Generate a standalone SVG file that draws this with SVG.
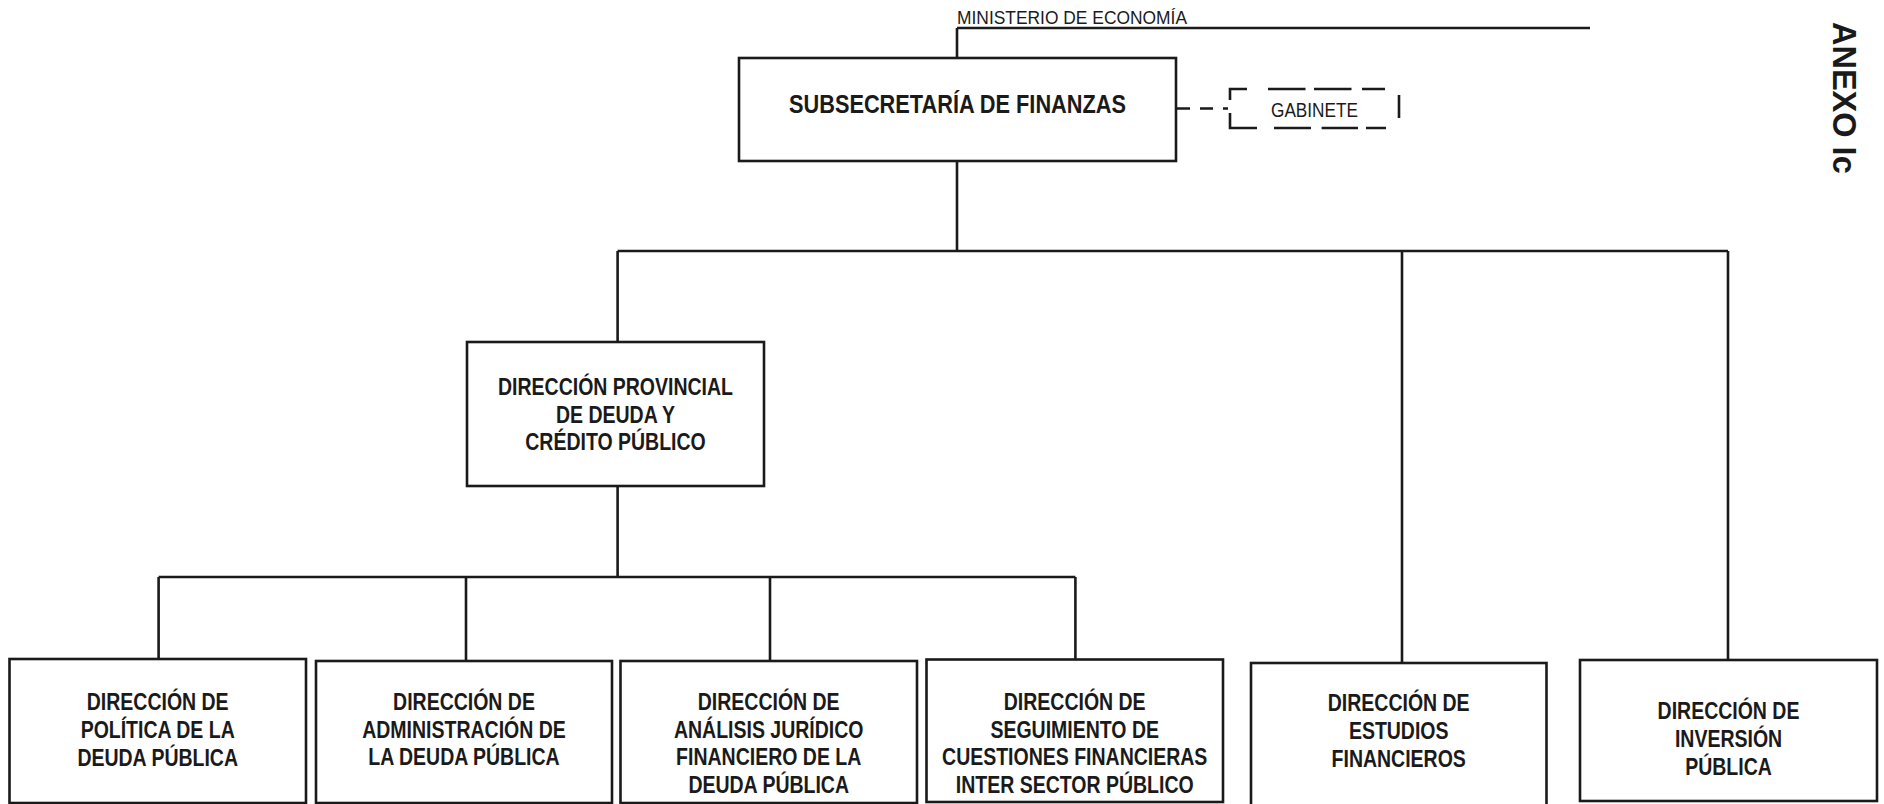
<svg xmlns="http://www.w3.org/2000/svg" width="1884" height="804" viewBox="0 0 1884 804">
<style>
.box{fill:#fff;stroke:#1a1a1a;stroke-width:2.6}
.ln{fill:none;stroke:#1a1a1a;stroke-width:2.6}
.dl{fill:none;stroke:#1a1a1a;stroke-width:2.6}
.lbl{font-family:"Liberation Sans",Arial,sans-serif;font-weight:bold;font-size:23.5px;text-anchor:middle;fill:#1a1a1a}
.reg{font-family:"Liberation Sans",Arial,sans-serif;fill:#1a1a1a}
</style>
<rect width="1884" height="804" fill="#fff"/>
<g id="connectors">
<path class="ln" d="M957 28 H1590 M957 28 V58"/>
<path class="ln" d="M957 161 V251 M617.6 251 H1728 M617.6 251 V342 M1402 251 V663 M1728 251 V660"/>
<path class="ln" d="M617.6 486 V577 M158.6 577 H1075.4 M158.6 577 V659 M466 577 V661 M770 577 V661 M1075.4 577 V659.5"/>
<path class="dl" d="M1177 108.5 H1228" stroke-dasharray="13 10"/>
</g>
<g id="ministerio">
<text class="reg" x="957" y="24" font-size="19" textLength="230" lengthAdjust="spacingAndGlyphs">MINISTERIO DE ECONOMÍA</text>
</g>
<g id="subsecretaria">
<rect class="box" x="739" y="58" width="437" height="103"/>
<text class="reg" x="957.5" y="113" font-size="25.5" font-weight="bold" text-anchor="middle" textLength="337" lengthAdjust="spacingAndGlyphs">SUBSECRETARÍA DE FINANZAS</text>
</g>
<g id="gabinete">
<path class="ln" d="M1230 100 V89 H1247 M1268 89 H1305.5 M1314 89 H1351.5 M1362 89 H1385 M1230 113 V128 H1257 M1274 128 H1311 M1321.6 128 H1358 M1366 128 H1386 M1399 95 V118"/>
<text class="reg" x="1314.5" y="116.5" font-size="20" text-anchor="middle" textLength="87" lengthAdjust="spacingAndGlyphs">GABINETE</text>
</g>
<g id="anexo">
<text class="reg" transform="translate(1833,22) rotate(90)" font-size="32.5" font-weight="bold">ANEXO Ic</text>
</g>
<g id="dir-provincial">
<rect class="box" x="467" y="342" width="297" height="144"/>
<text class="lbl" transform="translate(615.5,0) scale(0.83,1)"><tspan x="0" y="395">DIRECCIÓN PROVINCIAL</tspan><tspan x="0" y="422.6">DE DEUDA Y</tspan><tspan x="0" y="450.2">CRÉDITO PÚBLICO</tspan></text>
</g>
<g id="dir-politica">
<rect class="box" x="9.5" y="659" width="296.5" height="144"/>
<text class="lbl" transform="translate(157.7,0) scale(0.83,1)"><tspan x="0" y="710.5">DIRECCIÓN DE</tspan><tspan x="0" y="738">POLÍTICA DE LA</tspan><tspan x="0" y="765.6">DEUDA PÚBLICA</tspan></text>
</g>
<g id="dir-administracion">
<rect class="box" x="316" y="661" width="296" height="142"/>
<text class="lbl" transform="translate(464,0) scale(0.83,1)"><tspan x="0" y="710">DIRECCIÓN DE</tspan><tspan x="0" y="737.6">ADMINISTRACIÓN DE</tspan><tspan x="0" y="765.2">LA DEUDA PÚBLICA</tspan></text>
</g>
<g id="dir-analisis">
<rect class="box" x="620.5" y="661" width="296.5" height="142"/>
<text class="lbl" transform="translate(768.7,0) scale(0.83,1)"><tspan x="0" y="710">DIRECCIÓN DE</tspan><tspan x="0" y="737.6">ANÁLISIS JURÍDICO</tspan><tspan x="0" y="765.2">FINANCIERO DE LA</tspan><tspan x="0" y="792.8">DEUDA PÚBLICA</tspan></text>
</g>
<g id="dir-seguimiento">
<rect class="box" x="926.5" y="659.5" width="296.5" height="142.5"/>
<text class="lbl" transform="translate(1074.7,0) scale(0.83,1)"><tspan x="0" y="710">DIRECCIÓN DE</tspan><tspan x="0" y="737.6">SEGUIMIENTO DE</tspan><tspan x="0" y="765.2">CUESTIONES FINANCIERAS</tspan><tspan x="0" y="792.8">INTER SECTOR PÚBLICO</tspan></text>
</g>
<g id="dir-estudios">
<rect class="box" x="1251" y="663" width="295.5" height="145"/>
<text class="lbl" transform="translate(1398.7,0) scale(0.83,1)"><tspan x="0" y="711.5">DIRECCIÓN DE</tspan><tspan x="0" y="739">ESTUDIOS</tspan><tspan x="0" y="766.6">FINANCIEROS</tspan></text>
</g>
<g id="dir-inversion">
<rect class="box" x="1580" y="660" width="297" height="141"/>
<text class="lbl" transform="translate(1728.5,0) scale(0.83,1)"><tspan x="0" y="719.5">DIRECCIÓN DE</tspan><tspan x="0" y="747">INVERSIÓN</tspan><tspan x="0" y="774.6">PÚBLICA</tspan></text>
</g>
</svg>
